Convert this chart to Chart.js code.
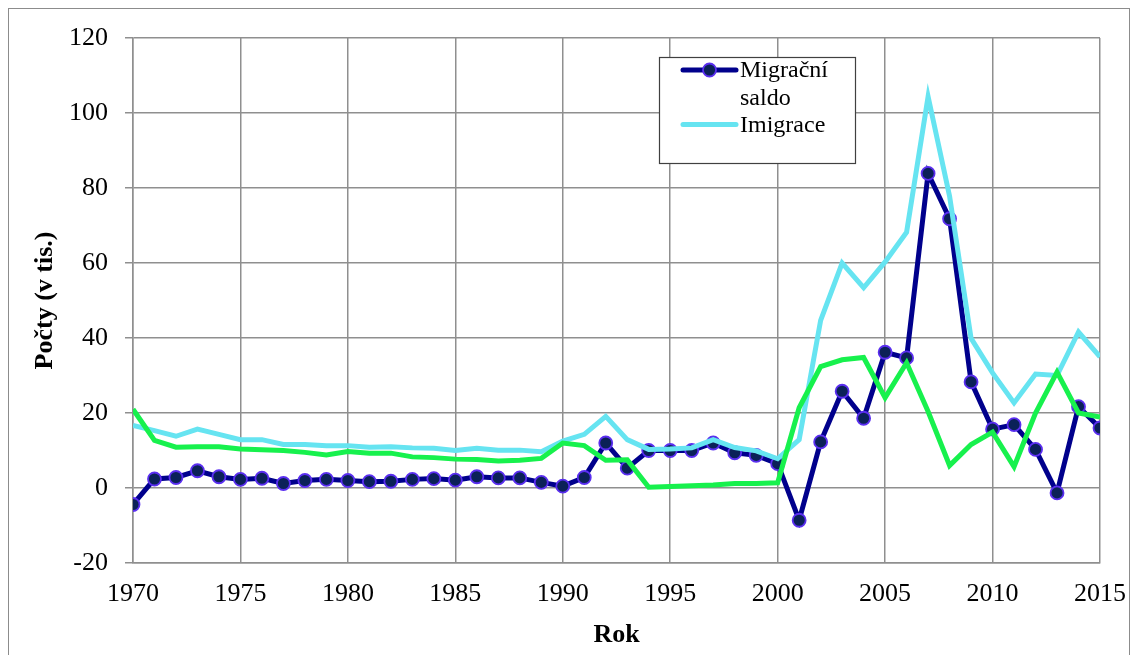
<!DOCTYPE html>
<html>
<head>
<meta charset="utf-8">
<script src="https://cdn.jsdelivr.net/npm/chart.js@4.4.1/dist/chart.umd.min.js"></script>
<style>
  html, body { margin: 0; padding: 0; background: #ffffff; }
  #wrap { position: relative; width: 1139px; height: 655px; overflow: hidden; }
  #frame { position: absolute; left: 8px; top: 8px; width: 1122px; height: 680px; border: 1.5px solid #8c8c8c; box-sizing: border-box; pointer-events: none; }
  canvas { position: absolute; left: 0; top: 0; }
</style>
</head>
<body>
<div id="wrap">
  <canvas id="c" width="1139" height="655"></canvas>
  <div id="frame"></div>
</div>
<script>
const years = [1970,1971,1972,1973,1974,1975,1976,1977,1978,1979,1980,1981,1982,1983,1984,1985,1986,1987,1988,1989,1990,1991,1992,1993,1994,1995,1996,1997,1998,1999,2000,2001,2002,2003,2004,2005,2006,2007,2008,2009,2010,2011,2012,2013,2014,2015];

const migracniSaldo = [-4.4,2.4,2.8,4.6,3.0,2.3,2.6,1.2,2.0,2.3,2.0,1.7,1.8,2.3,2.5,2.1,3.0,2.7,2.7,1.5,0.5,2.8,12.0,5.3,10.0,10.0,10.0,12.0,9.4,8.7,6.5,-8.6,12.3,25.8,18.6,36.2,34.7,83.9,71.8,28.3,15.7,16.9,10.3,-1.3,21.7,16.0];

const imigrace = [16.7,15.3,13.8,15.7,14.3,12.9,12.9,11.6,11.6,11.3,11.3,10.9,11.0,10.7,10.6,10.0,10.6,10.1,10.1,9.7,12.5,14.3,19.1,12.9,10.3,10.4,10.7,12.9,10.8,9.9,7.8,12.9,44.7,60.0,53.4,60.3,68.2,104.4,77.8,39.9,30.7,22.7,30.4,30.0,41.6,35.0];

const emigrace = [21.0,12.7,10.9,11.0,11.0,10.4,10.2,10.0,9.5,8.8,9.7,9.3,9.3,8.3,8.1,7.7,7.6,7.2,7.4,7.9,12.0,11.3,7.4,7.5,0.2,0.4,0.6,0.8,1.2,1.2,1.4,21.4,32.4,34.2,34.8,24.1,33.4,20.4,6.0,11.6,14.9,5.7,20.0,30.9,20.0,18.9];

const seriesNames = ['Migrační saldo', 'Imigrace', 'Emigrace'];
const legendShown = ['Migrační saldo', 'Imigrace'];

const yTicks = [-20, 0, 20, 40, 60, 80, 100, 120];
const xTickStep = 5;

const axisTitleX = 'Rok';
const axisTitleY = 'Počty (v tis.)';

const FONT = "'Liberation Serif', 'Times New Roman', serif";
const GRID = '#8f8f8f';

function toPoints(vals) { return years.map((yr, i) => ({ x: yr, y: vals[i] })); }

const customLegend = {
  id: 'customLegend',
  afterDraw(chart) {
    const ctx = chart.ctx;
    const bx = 659, by = 57, bw = 196, bh = 106;
    ctx.save();
    ctx.fillStyle = '#ffffff';
    ctx.fillRect(bx, by, bw, bh);
    ctx.strokeStyle = '#404040';
    ctx.lineWidth = 1.2;
    ctx.strokeRect(bx + 0.5, by + 0.5, bw, bh);
    ctx.font = "24px " + FONT;
    ctx.textBaseline = 'alphabetic';
    ctx.fillStyle = '#000000';
    const textX = 740, maxW = 110, lineH = 27.5;
    let baseY = 77;
    chart.data.datasets.forEach(ds => {
      if (!legendShown.includes(ds.label)) return;
      const words = ds.label.split(' ');
      const lines = [];
      let cur = '';
      words.forEach(w => {
        const t = cur ? cur + ' ' + w : w;
        if (ctx.measureText(t).width > maxW && cur) { lines.push(cur); cur = w; }
        else cur = t;
      });
      if (cur) lines.push(cur);
      const sy = baseY - 7;
      ctx.strokeStyle = ds.borderColor;
      ctx.lineWidth = ds.borderWidth;
      ctx.lineCap = 'round';
      ctx.beginPath();
      ctx.moveTo(683, sy);
      ctx.lineTo(736, sy);
      ctx.stroke();
      if (ds.pointRadius > 0) {
        ctx.beginPath();
        ctx.arc(709.5, sy, ds.pointRadius, 0, Math.PI * 2);
        ctx.fillStyle = ds.pointBackgroundColor;
        ctx.fill();
        ctx.lineWidth = ds.pointBorderWidth;
        ctx.strokeStyle = ds.pointBorderColor;
        ctx.stroke();
      }
      ctx.fillStyle = '#000000';
      lines.forEach((ln, k) => ctx.fillText(ln, textX, baseY + k * lineH));
      baseY += lines.length * lineH - 0.5;
    });
    ctx.restore();
  }
};

new Chart(document.getElementById('c'), {
  type: 'line',
  data: {
    datasets: [
      {
        label: seriesNames[0],
        data: toPoints(migracniSaldo),
        borderColor: '#00008c',
        borderWidth: 5,
        pointRadius: 6.5,
        pointBackgroundColor: '#0b2158',
        pointBorderColor: '#5a2ef0',
        pointBorderWidth: 1.8,
        tension: 0,
        order: 3
      },
      {
        label: seriesNames[1],
        data: toPoints(imigrace),
        borderColor: '#66e4f1',
        borderWidth: 5,
        pointRadius: 0,
        tension: 0,
        order: 2
      },
      {
        label: seriesNames[2],
        data: toPoints(emigrace),
        borderColor: '#17f14d',
        borderWidth: 5,
        pointRadius: 0,
        tension: 0,
        order: 1
      }
    ]
  },
  options: {
    responsive: false,
    animation: false,
    devicePixelRatio: 1,
    layout: { padding: { top: 38, right: 39, left: 0, bottom: 0 } },
    plugins: { legend: { display: false }, tooltip: { enabled: false } },
    scales: {
      x: {
        type: 'linear',
        min: years[0],
        max: years[years.length - 1],
        afterFit(s) { s.height = 92; s.paddingRight = 0; s.paddingLeft = 0; },
        ticks: {
          stepSize: xTickStep,
          padding: 16,
          color: '#000000',
          font: { family: FONT, size: 26 },
          maxRotation: 0,
          callback: v => String(v)
        },
        grid: { color: GRID, lineWidth: 1.5, drawTicks: false },
        border: { display: true, color: GRID, width: 1.5 },
        title: {
          display: true,
          text: axisTitleX,
          color: '#000000',
          font: { family: FONT, size: 26, weight: 'bold' },
          padding: { top: 0, bottom: 4 }
        }
      },
      y: {
        min: yTicks[0],
        max: yTicks[yTicks.length - 1],
        afterFit(s) { s.width = 133; },
        afterBuildTicks(s) { s.ticks = yTicks.map(v => ({ value: v })); },
        ticks: {
          padding: 17,
          color: '#000000',
          font: { family: FONT, size: 26 },
          callback: v => String(v)
        },
        grid: { color: GRID, lineWidth: 1.5, drawTicks: true, tickLength: 8 },
        border: { display: true, color: GRID, width: 1.5 },
        title: {
          display: true,
          text: axisTitleY,
          color: '#000000',
          font: { family: FONT, size: 26, weight: 'bold' },
          padding: { top: 30, bottom: 0 }
        }
      }
    }
  },
  plugins: [customLegend]
});
</script>
</body>
</html>
